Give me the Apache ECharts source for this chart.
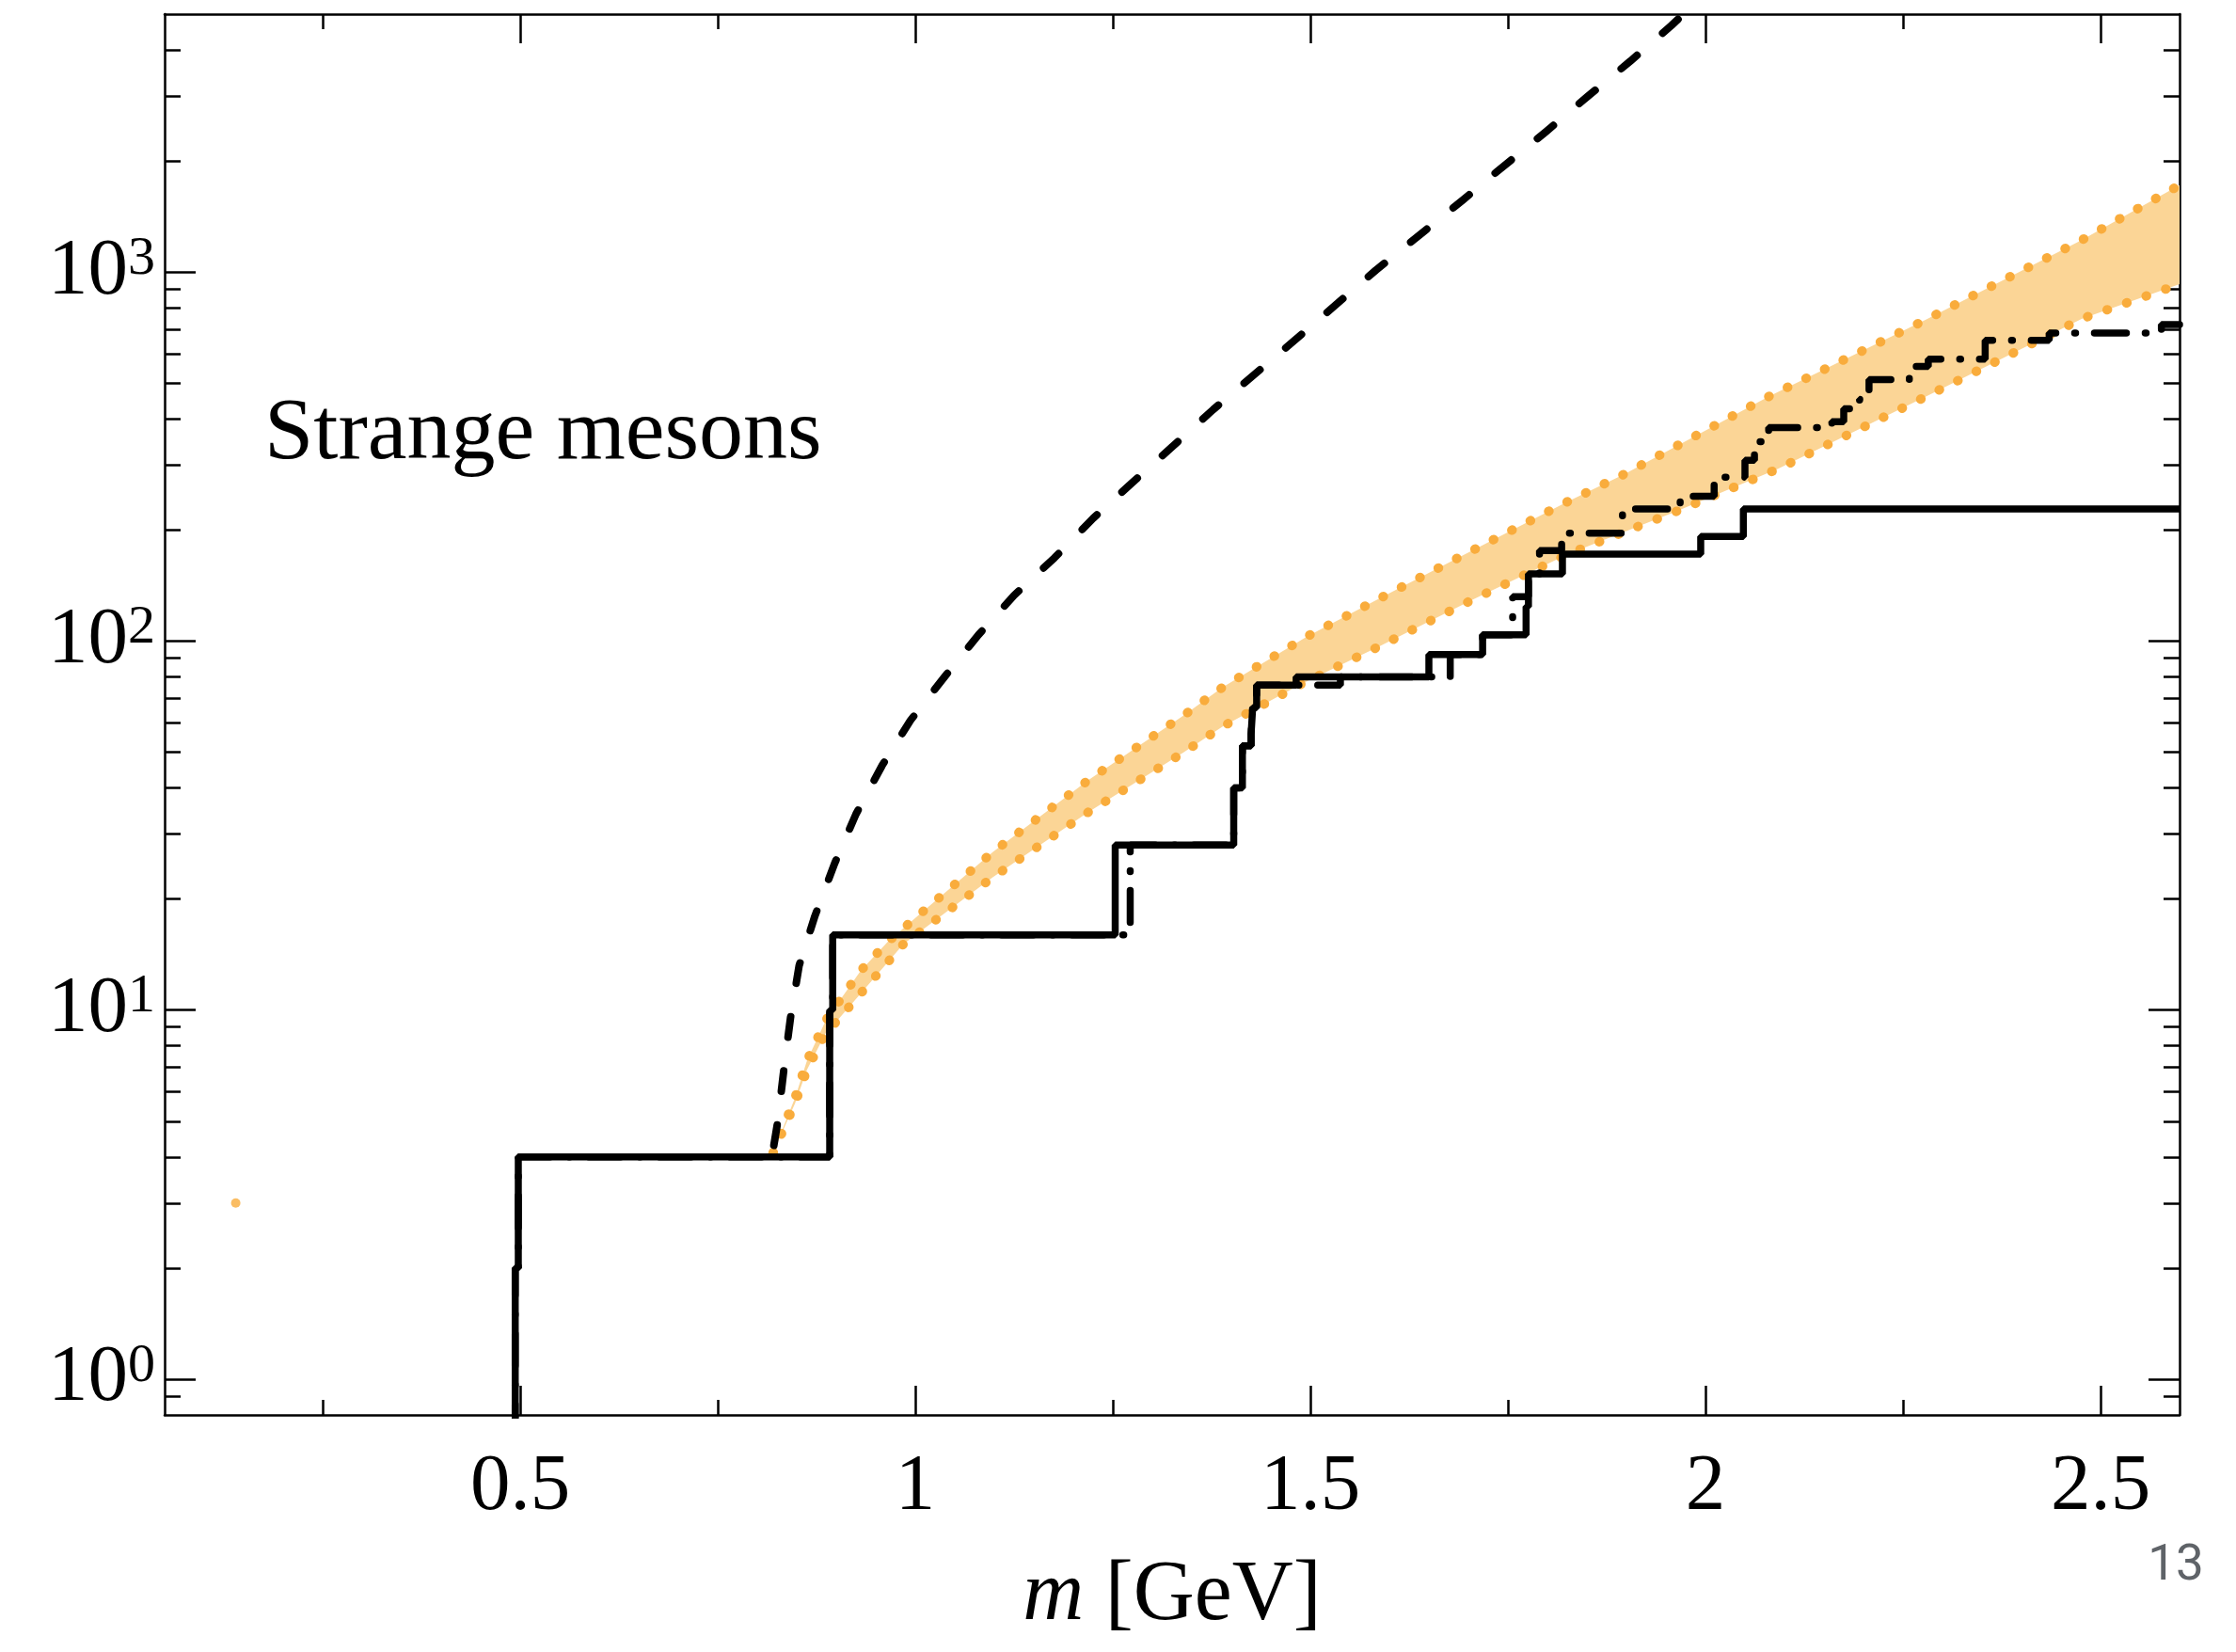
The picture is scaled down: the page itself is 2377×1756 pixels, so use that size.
<!DOCTYPE html>
<html>
<head>
<meta charset="utf-8">
<title>Strange mesons</title>
<script src="https://cdn.jsdelivr.net/npm/echarts@6/dist/echarts.min.js"></script>
<style>
  html, body { margin: 0; padding: 0; background: #fff; }
  #chart { width: 2377px; height: 1756px; }
</style>
</head>
<body>
<div id="chart"></div>
<script>
// axis ticks
let xMajorTicks = [0.5, 1, 1.5, 2, 2.5];
let xMinorTicks = [0.25, 0.75, 1.25, 1.75, 2.25];
let yMajorTicks = [1, 10, 100, 1000];
let yMinorTicks = [0.9, 2, 3, 4, 5, 6, 7, 8, 9, 20, 30, 40, 50, 60, 70, 80, 90,
  200, 300, 400, 500, 600, 700, 800, 900, 2000, 3000, 4000];

// dashed curve (m, N)
let dashedX = [0.821, 0.826, 0.834, 0.842, 0.853, 0.873, 0.898, 0.925, 0.958, 0.994, 1.037,
  1.080, 1.125, 1.176, 1.225, 1.274, 1.323, 1.377, 1.480, 1.583, 1.693, 1.736, 1.798, 1.850,
  1.905, 1.957, 1.985];
let dashedY = [4.3, 5.0, 7.0, 9.5, 13.2, 18, 25, 34, 46, 61, 80,
  104, 133, 168, 215, 268, 333, 424, 653, 1012, 1567, 1870, 2400, 2980,
  3730, 4660, 5300];

// orange band, upper and lower edges
let bandUpX = [0.820, 0.848, 0.863, 0.887, 0.900, 0.931, 0.965, 1.007, 1.098, 1.219, 1.340,
  1.389, 1.496, 1.595, 1.707, 1.826, 1.898, 2.080, 2.279, 2.476, 2.600];
let bandUpY = [4.1, 5.8, 7.3, 9.4, 10.3, 12.8, 15.3, 18.3, 26.8, 42, 63,
  75, 103, 133, 177, 239, 284, 460, 743, 1220, 1720];
let bandLowX = [0.820, 0.848, 0.863, 0.887, 0.900, 0.931, 0.985, 1.098, 1.219, 1.340, 1.389,
  1.488, 1.588, 1.707, 1.826, 1.964, 2.092, 2.279, 2.476, 2.600];
let bandLowY = [4.1, 5.6, 6.9, 8.7, 9.3, 11.1, 15.1, 22.9, 34.4, 50, 58.7,
  76.4, 97, 130, 172, 225, 293, 460, 747, 927];

// solid step line (mass where count jumps, count after the jump)
let solidMass = [0.4937, 0.4937, 0.4976, 0.8917, 0.8955, 1.253, 1.403, 1.414, 1.425, 1.427,
  1.432, 1.482, 1.650, 1.718, 1.773, 1.776, 1.819, 1.994, 2.048, 2.600];
let solidCount = [0.7, 2, 4, 10, 16, 28, 40, 52, 56, 66,
  76, 80, 92, 104, 124, 152, 172, 192, 228, 228];

// dash-dot step line
let ddMass = [0.4937, 0.4937, 0.4976, 0.8917, 0.8955, 1.272, 1.403, 1.414, 1.425, 1.427,
  1.432, 1.538, 1.677, 1.718, 1.756, 1.776, 1.790, 1.818, 1.895, 1.968, 2.011, 2.050, 2.062,
  2.080, 2.160, 2.175, 2.195, 2.207, 2.258, 2.282, 2.354, 2.435, 2.577, 2.600];
let ddCount = [0.7, 2, 4, 10, 16, 28, 40, 52, 56, 66,
  76, 80, 92, 104, 132, 152, 176, 196, 228, 247, 278, 309, 347,
  379, 393, 426, 452, 511, 555, 581, 653, 684, 721, 721];

// lone orange point
let dotX = [0.14];
let dotY = [3.0];

let serif = "Liberation Serif";
let orange = "#f9ac3c";
let bandFill = "#fbd596";

function pairs(xs, ys) {
  return xs.map(function (x, i) { return [x, ys[i]]; });
}

function xAxisPart(pos, ticks, len, withLine, withLabel) {
  return {
    type: "value", min: 0.05, max: 2.6, position: pos,
    axisLine: { show: withLine, onZero: false, lineStyle: { color: "#000", width: 2.5 } },
    axisTick: { show: true, inside: true, length: len, customValues: ticks,
      lineStyle: { color: "#000", width: 2.5 } },
    axisLabel: withLabel ? {
      show: true, customValues: ticks, margin: 35, color: "#000",
      fontFamily: serif, fontSize: 85, lineHeight: 85,
      formatter: function (v) { return String(v); }
    } : { show: false },
    splitLine: { show: false }
  };
}

function yAxisPart(pos, ticks, len, withLine, withLabel) {
  return {
    type: "log", logBase: 10, min: 0.8, max: 5000, position: pos,
    axisLine: { show: withLine, onZero: false, lineStyle: { color: "#000", width: 2.5 } },
    axisTick: { show: true, inside: true, length: len, customValues: ticks,
      lineStyle: { color: "#000", width: 2.5 } },
    axisLabel: withLabel ? {
      show: true, customValues: ticks, margin: 10, color: "#000",
      formatter: function (v) {
        let p = Math.round(Math.log10(v));
        return "{b|10}{s|" + p + "}";
      },
      rich: {
        b: { fontFamily: serif, fontSize: 85, lineHeight: 85, color: "#000" },
        s: { fontFamily: serif, fontSize: 58, lineHeight: 26, color: "#000", verticalAlign: "top" }
      }
    } : { show: false },
    splitLine: { show: false }
  };
}

let chart = echarts.init(document.getElementById("chart"));

let xBottom = xAxisPart("bottom", xMajorTicks, 31, true, true);
xBottom.name = "{i|m} {r|[GeV]}";
xBottom.nameLocation = "middle";
xBottom.nameGap = 148;
xBottom.nameTextStyle = {
  fontFamily: serif, fontSize: 90, color: "#000",
  rich: {
    i: { fontFamily: serif, fontSize: 90, fontStyle: "italic", color: "#000", lineHeight: 90 },
    r: { fontFamily: serif, fontSize: 90, color: "#000", lineHeight: 90 }
  }
};

let option = {
  animation: false,
  backgroundColor: "#fff",
  grid: { left: 175, right: 60, top: 15, bottom: 252, containLabel: false, outerBoundsMode: "none" },
  xAxis: [
    xBottom,
    xAxisPart("bottom", xMinorTicks, 16, false, false),
    xAxisPart("top", xMajorTicks, 31, true, false),
    xAxisPart("top", xMinorTicks, 16, false, false)
  ],
  yAxis: [
    yAxisPart("left", yMajorTicks, 33, true, true),
    yAxisPart("left", yMinorTicks, 17, false, false),
    yAxisPart("right", yMajorTicks, 33, true, false),
    yAxisPart("right", yMinorTicks, 17, false, false)
  ],
  graphic: [
    {
      type: "text", x: 281, y: 462, silent: true,
      style: { text: "Strange mesons", fontFamily: serif, fontSize: 94, fill: "#000",
        align: "left", verticalAlign: "middle" }
    },
    {
      type: "text", x: 2313, y: 1666, silent: true,
      style: { text: "13", fontFamily: "Roboto", fontSize: 53, fill: "#5f6368",
        align: "center", verticalAlign: "middle" }
    }
  ],
  series: [
    {
      // band fill
      type: "custom",
      xAxisIndex: 0, yAxisIndex: 0,
      silent: true, clip: true,
      data: [[bandUpX[0], bandUpY[0]]],
      renderItem: function (params, api) {
        let pts = [];
        for (let i = 0; i < bandUpX.length; i++) pts.push(api.coord([bandUpX[i], bandUpY[i]]));
        for (let i = bandLowX.length - 1; i >= 0; i--) pts.push(api.coord([bandLowX[i], bandLowY[i]]));
        return { type: "polygon", shape: { points: pts }, style: { fill: bandFill } };
      }
    },
    {
      type: "line", xAxisIndex: 0, yAxisIndex: 0, silent: true,
      data: pairs(bandUpX, bandUpY), showSymbol: false, symbol: "none",
      lineStyle: { color: orange, width: 10, type: [0.5, 21.5], cap: "round" }
    },
    {
      type: "line", xAxisIndex: 0, yAxisIndex: 0, silent: true,
      data: pairs(bandLowX, bandLowY), showSymbol: false, symbol: "none",
      lineStyle: { color: orange, width: 10, type: [0.5, 21.5], cap: "round" }
    },
    {
      type: "line", xAxisIndex: 0, yAxisIndex: 0, silent: true,
      data: pairs(dashedX, dashedY), showSymbol: false, symbol: "none",
      lineStyle: { color: "#000", width: 8, type: [22, 36], cap: "round", join: "round" }
    },
    {
      type: "line", xAxisIndex: 0, yAxisIndex: 0, silent: true,
      data: pairs(ddMass, ddCount), step: "end", showSymbol: false, symbol: "none",
      lineStyle: { color: "#000", width: 7.5, type: [34, 20, 1, 20], cap: "round" }
    },
    {
      type: "line", xAxisIndex: 0, yAxisIndex: 0, silent: true,
      data: pairs(solidMass, solidCount), step: "end", showSymbol: false, symbol: "none",
      lineStyle: { color: "#000", width: 7.5, type: "solid" }
    },
    {
      type: "scatter", xAxisIndex: 0, yAxisIndex: 0, silent: true,
      data: pairs(dotX, dotY), symbolSize: 10,
      itemStyle: { color: orange }
    }
  ]
};

chart.setOption(option);
</script>
</body>
</html>
